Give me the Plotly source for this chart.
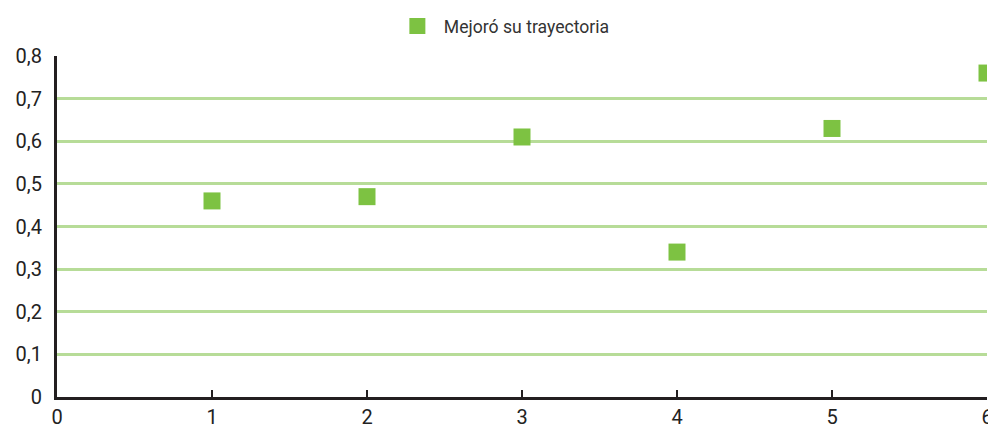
import plotly.graph_objects as go

x_vals = [1, 2, 3, 4, 5, 6]
y_vals = [0.46, 0.47, 0.61, 0.34, 0.63, 0.76]
series_name = "Mejoró su trayectoria"
y_ticks = [0, 0.1, 0.2, 0.3, 0.4, 0.5, 0.6, 0.7, 0.8]
y_ticklabels = ["0", "0,1", "0,2", "0,3", "0,4", "0,5", "0,6", "0,7", "0,8"]
x_ticks = [0, 1, 2, 3, 4, 5, 6]

fig = go.Figure()
fig.add_trace(go.Scatter(
    x=x_vals, y=y_vals, mode="markers", name=series_name,
    marker=dict(symbol="square", size=17, color="#7dc242"),
    cliponaxis=True,
))

font_family = "Roboto, Arial, sans-serif"
fig.update_layout(
    width=988, height=443,
    margin=dict(l=57, r=1, t=56, b=46, autoexpand=False),
    paper_bgcolor="white", plot_bgcolor="white",
    showlegend=True,
    legend=dict(orientation="h", x=0.359, xanchor="left", y=1.088, yanchor="middle",
                itemwidth=43,
                font=dict(family=font_family, size=17.6, color="#333333"),
                bgcolor="rgba(0,0,0,0)"),
    font=dict(family=font_family, size=20, color="#222222"),
    separators=", ",
)
fig.update_xaxes(
    range=[0, 6], tickvals=x_ticks, ticks="inside", ticklen=7, tickwidth=2,
    tickcolor="#231f20", showline=True, linecolor="#231f20", linewidth=3,
    showgrid=False, zeroline=False, tickfont=dict(size=20), automargin=False,
    ticklabeloverflow="allow",
)
fig.update_yaxes(
    range=[0, 0.8], tickvals=y_ticks, ticktext=y_ticklabels, ticks="",
    showline=True, linecolor="#231f20", linewidth=3,
    showgrid=True, gridcolor="#b7dc98", gridwidth=2.5, zeroline=False,
    tickfont=dict(size=20), automargin=False, ticklabelstandoff=8,
)

fig.write_html("out.html", config={"displayModeBar": False},
               post_script="document.body.style.margin='0';")
